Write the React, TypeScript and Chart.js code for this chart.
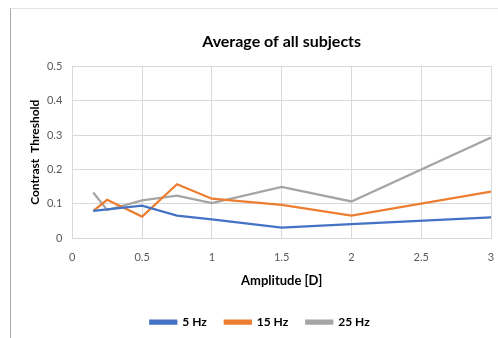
import React, { useEffect, useRef } from "react";
import { Chart, registerables } from "chart.js";

Chart.register(...registerables);

// Amplitude values (D) at which thresholds were measured
const amplitudes = [0.15, 0.25, 0.5, 0.75, 1, 1.5, 2, 3];

// Average contrast threshold per temporal frequency
const hz5 = [0.08, 0.084, 0.095, 0.066, 0.055, 0.031, 0.041, 0.061];
const hz15 = [0.08, 0.112, 0.063, 0.157, 0.115, 0.097, 0.066, 0.136];
const hz25 = [0.133, 0.082, 0.11, 0.124, 0.102, 0.149, 0.107, 0.293];

const seriesNames = ["5 Hz", "15 Hz", "25 Hz"];
const seriesColors = ["#4472C4", "#ED7D31", "#A5A5A5"];

const FONT = "Lato, 'Open Sans', sans-serif";

const fmt = (v: number | string) => String(Number(Number(v).toFixed(2)));

export default function App() {
  const canvasRef = useRef<HTMLCanvasElement | null>(null);

  useEffect(() => {
    const canvas = canvasRef.current;
    if (!canvas) return;
    const series = [hz5, hz15, hz25];
    const chart = new Chart(canvas, {
      type: "line",
      data: {
        datasets: series.map((vals, i) => ({
          label: seriesNames[i],
          data: vals.map((v, j) => ({ x: amplitudes[j], y: v })),
          borderColor: seriesColors[i],
          backgroundColor: seriesColors[i],
          borderWidth: 2.25,
          pointRadius: 0,
          tension: 0,
          fill: false,
        })),
      },
      options: {
        animation: false,
        responsive: false,
        maintainAspectRatio: false,
        layout: { padding: { left: 18, right: 7, top: 0, bottom: 0 } },
        plugins: {
          title: {
            display: true,
            text: "Average of all subjects",
            color: "#000000",
            fullSize: false,
            font: { family: FONT, size: 16, weight: "bold" },
            padding: { top: 23, bottom: 15 },
          },
          legend: {
            position: "bottom",
            labels: {
              boxWidth: 26,
              boxHeight: 3,
              padding: 18,
              color: "#000000",
              font: { family: FONT, size: 12, weight: "bold" },
            },
          },
          tooltip: { enabled: false },
        },
        scales: {
          x: {
            type: "linear",
            min: 0,
            max: 3,
            afterFit: (scale: any) => {
              scale.height = 59.7;
            },
            ticks: {
              stepSize: 0.5,
              maxRotation: 0,
              color: "#595959",
              padding: 0,
              font: { family: FONT, size: 11 },
              callback: (v: number | string) => fmt(v),
            },
            grid: {
              color: "#D9D9D9",
              drawTicks: true,
              tickLength: 13,
              tickColor: "rgba(0,0,0,0)",
            },
            border: { color: "#D9D9D9" },
            title: {
              display: true,
              text: "Amplitude [D]",
              color: "#000000",
              font: { family: FONT, size: 13, weight: "bold" },
              padding: { top: 4, bottom: 9 },
            },
          },
          y: {
            type: "linear",
            min: 0,
            max: 0.5,
            afterFit: (scale: any) => {
              scale.width = 43.3;
            },
            ticks: {
              stepSize: 0.1,
              color: "#595959",
              padding: 10,
              font: { family: FONT, size: 11 },
              callback: (v: number | string) => fmt(v),
            },
            grid: { color: "#D9D9D9", drawTicks: false },
            border: { color: "#D9D9D9" },
            title: {
              display: true,
              text: "Contrast  Threshold",
              color: "#000000",
              font: { family: FONT, size: 12, weight: "bold" },
              padding: { top: -1, bottom: 3 },
            },
          },
        },
      },
    });
    return () => chart.destroy();
  }, []);

  return (
    <div
      style={{
        position: "fixed",
        left: 0,
        top: 0,
        width: 498,
        height: 338,
        background: "#ffffff",
        overflow: "hidden",
      }}
    >
      <div
        style={{
          position: "absolute",
          left: 10,
          top: 8,
          right: 0,
          bottom: 0,
          borderLeft: "1px solid #ABABAB",
          borderTop: "1px solid #E2E2E2",
        }}
      />
      <canvas
        ref={canvasRef}
        width={487}
        height={329}
        style={{ position: "absolute", left: 11, top: 9, width: 487, height: 329 }}
      />
    </div>
  );
}
